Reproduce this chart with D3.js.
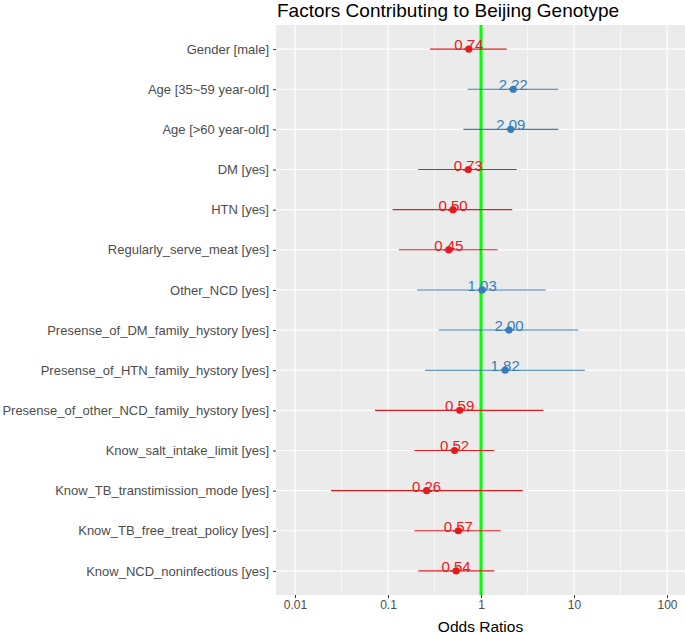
<!DOCTYPE html>
<html><head><meta charset="utf-8">
<script src="https://cdn.jsdelivr.net/npm/d3@7"></script>
<style>body{margin:0;background:#fff;font-family:"Liberation Sans",Arial,sans-serif;}</style>
</head><body>
<script>
const categories = ["Gender [male]","Age [35~59 year-old]","Age [>60 year-old]","DM [yes]","HTN [yes]","Regularly_serve_meat [yes]","Other_NCD [yes]","Presense_of_DM_family_hystory [yes]","Presense_of_HTN_family_hystory [yes]","Presense_of_other_NCD_family_hystory [yes]","Know_salt_intake_limit [yes]","Know_TB_transtimission_mode [yes]","Know_TB_free_treat_policy [yes]","Know_NCD_noninfectious [yes]"];
const estimates = [0.74,2.22,2.09,0.73,0.50,0.45,1.03,2.00,1.82,0.59,0.52,0.26,0.57,0.54];
const lower = [0.283,0.72,0.645,0.212,0.112,0.131,0.206,0.351,0.25,0.0724,0.192,0.0244,0.192,0.212];
const upper = [1.89,6.78,6.78,2.42,2.17,1.51,4.96,11.1,13.1,4.68,1.39,2.81,1.63,1.39];
const labels = ["0.74","2.22","2.09","0.73","0.50","0.45","1.03","2.00","1.82","0.59","0.52","0.26","0.57","0.54"];
const xTicks = [0.01,0.1,1,10,100];
const xTickLabels = ["0.01","0.1","1","10","100"];
const minorTicks = [0.0316,0.316,3.16,31.6];

const W=685,H=634;
const pl=276,pr=685,pt=25,pb=595;
const svg=d3.select("body").append("svg").attr("width",W).attr("height",H);
const x=d3.scaleLog().domain([0.00625,156]).range([pl,pr]);
const y=d3.scalePoint().domain(categories).range([pt,pb]).padding(0.6);
const red="#e41a1c", blue="#377eb8";
const col=(v)=> v<1 ? red : blue;

svg.append("rect").attr("x",pl).attr("y",pt).attr("width",pr-pl).attr("height",pb-pt).attr("fill","#ebebeb");
svg.selectAll(".mg").data(minorTicks).join("line").attr("x1",d=>x(d)).attr("x2",d=>x(d)).attr("y1",pt).attr("y2",pb).attr("stroke","#fff").attr("stroke-width",0.6);
svg.selectAll(".Mg").data(xTicks).join("line").attr("x1",d=>x(d)).attr("x2",d=>x(d)).attr("y1",pt).attr("y2",pb).attr("stroke","#fff").attr("stroke-width",1.2);
svg.selectAll(".hg").data(categories).join("line").attr("x1",pl).attr("x2",pr).attr("y1",d=>y(d)).attr("y2",d=>y(d)).attr("stroke","#fff").attr("stroke-width",1.2);

// reference line
svg.append("line").attr("x1",x(1)).attr("x2",x(1)).attr("y1",pt).attr("y2",pb).attr("stroke","#00ff00").attr("stroke-width",3);

const g=svg.append("g");
categories.forEach((c,i)=>{
  g.append("line").attr("x1",x(lower[i])).attr("x2",x(upper[i])).attr("y1",y(c)).attr("y2",y(c)).attr("stroke",col(estimates[i])).attr("stroke-width",1.1);
  g.append("circle").attr("cx",x(estimates[i])).attr("cy",y(c)).attr("r",3.6).attr("fill",col(estimates[i]));
  g.append("text").attr("x",x(estimates[i])).attr("y",y(c)+1).attr("text-anchor","middle").attr("font-size",15).attr("fill",col(estimates[i])).text(labels[i]);
});

// axes
const xa=svg.append("g").attr("transform",`translate(0,${pb})`).call(d3.axisBottom(x).tickValues(xTicks).tickFormat((d,i)=>xTickLabels[i]).tickSize(3).tickPadding(2));
xa.select(".domain").remove();
xa.selectAll("line").attr("stroke","#333");
xa.selectAll("text").attr("font-size",12).attr("fill","#4d4d4d").attr("font-family","Liberation Sans, Arial, sans-serif");
const ya=svg.append("g").attr("transform",`translate(${pl},0)`).call(d3.axisLeft(y).tickSize(3).tickPadding(4));
ya.select(".domain").remove();
ya.selectAll("line").attr("stroke","#333");
ya.selectAll("text").attr("font-size",13).attr("fill","#4d4d4d").attr("font-family","Liberation Sans, Arial, sans-serif");

svg.append("text").attr("x",(pl+pr)/2).attr("y",632).attr("text-anchor","middle").attr("font-size",15.5).attr("fill","#000").text("Odds Ratios");
svg.append("text").attr("x",pl+1).attr("y",17).attr("font-size",19).attr("fill","#000").text("Factors Contributing to Beijing Genotype");
</script>
</body></html>
